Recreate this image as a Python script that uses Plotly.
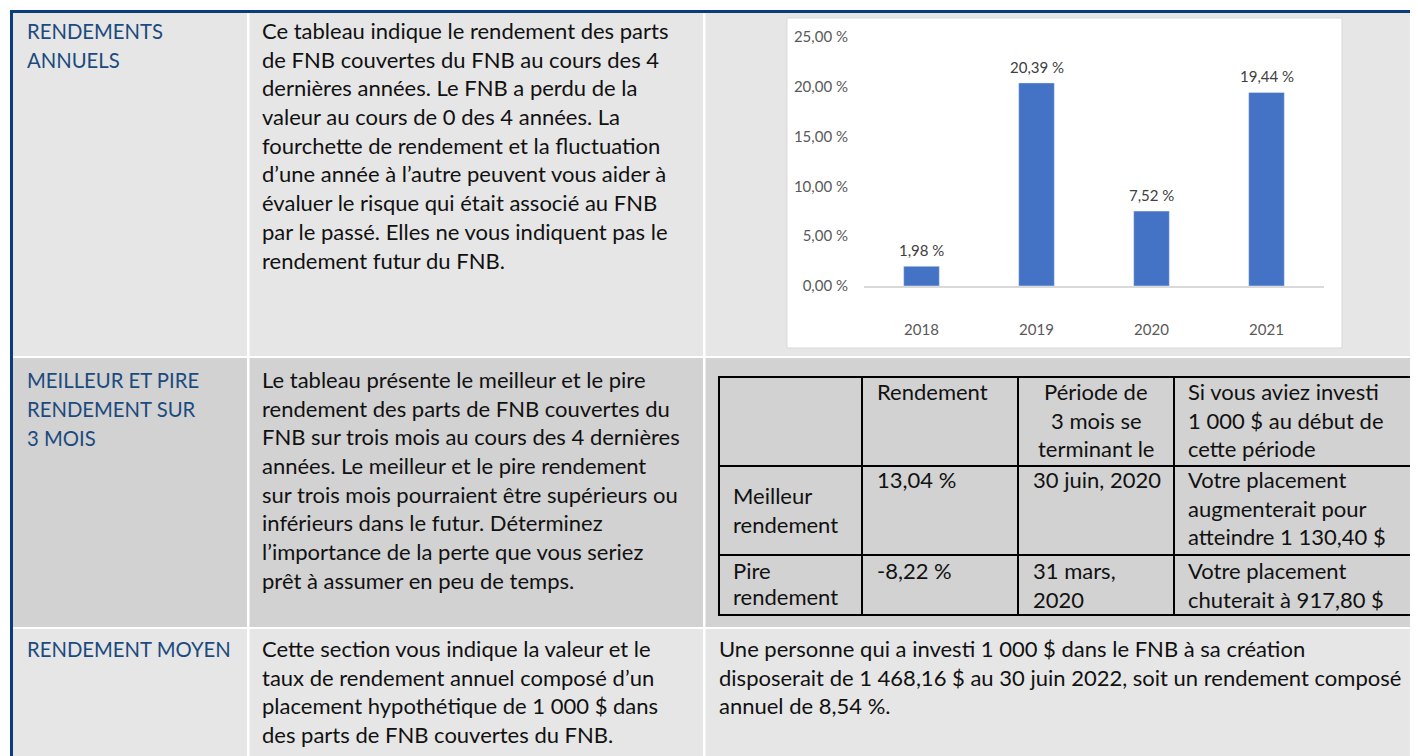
import plotly.graph_objects as go

W, H = 1418, 756
OX, OY = 8, 8  # page body offset compensation

# ---------------- data ----------------
years = ["2018", "2019", "2020", "2021"]
returns = [1.98, 20.39, 7.52, 19.44]
y_tick_values = [0, 5, 10, 15, 20, 25]

row1_title = ["RENDEMENTS", "ANNUELS"]
row1_text = [
    "Ce tableau indique le rendement des parts",
    "de FNB couvertes du FNB au cours des 4",
    "dernières années. Le FNB a perdu de la",
    "valeur au cours de 0 des 4 années. La",
    "fourchette de rendement et la fluctuation",
    "d’une année à l’autre peuvent vous aider à",
    "évaluer le risque qui était associé au FNB",
    "par le passé. Elles ne vous indiquent pas le",
    "rendement futur du FNB.",
]
row2_title = ["MEILLEUR ET PIRE", "RENDEMENT SUR", "3 MOIS"]
row2_text = [
    "Le tableau présente le meilleur et le pire",
    "rendement des parts de FNB couvertes du",
    "FNB sur trois mois au cours des 4 dernières",
    "années. Le meilleur et le pire rendement",
    "sur trois mois pourraient être supérieurs ou",
    "inférieurs dans le futur. Déterminez",
    "l’importance de la perte que vous seriez",
    "prêt à assumer en peu de temps.",
]
row3_title = ["RENDEMENT MOYEN"]
row3_text = [
    "Cette section vous indique la valeur et le",
    "taux de rendement annuel composé d’un",
    "placement hypothétique de 1 000 $ dans",
    "des parts de FNB couvertes du FNB.",
]
row3_result = [
    "Une personne qui a investi 1 000 $ dans le FNB à sa création",
    "disposerait de 1 468,16 $ au 30 juin 2022, soit un rendement composé",
    "annuel de 8,54 %.",
]

tbl_head_return = ["Rendement"]
tbl_head_period = ["Période de", "3 mois se", "terminant le"]
tbl_head_invest = ["Si vous aviez investi", "1 000 $ au début de", "cette période"]
best_label = ["Meilleur", "rendement"]
best_return = ["13,04 %"]
best_period = ["30 juin, 2020"]
best_invest = ["Votre placement", "augmenterait pour", "atteindre 1 130,40 $"]
worst_label = ["Pire", "rendement"]
worst_return = ["-8,22 %"]
worst_period = ["31 mars,", "2020"]
worst_invest = ["Votre placement", "chuterait à 917,80 $"]


def fmt_pct(v):
    return f"{v:.2f}".replace(".", ",") + " %"


# ---------------- helpers ----------------
FONT = "Lato"
FS = 22
HS = 20.3
ASC = 0.387
NAVY = "#1c4a7e"
BORDER = "#0b3d7a"
LIGHT = "#e6e6e6"
DARK = "#d2d2d2"
TXT = "#111111"

shapes = []
annotations = []


def px(x):
    return (x - OX) / W


def py(y):
    return 1 - (y - OY) / H


def rect(x0, y0, x1, y1, fill, line_color=None, lw=0, layer="below"):
    shapes.append(dict(type="rect", xref="paper", yref="paper",
                       x0=px(x0), x1=px(x1), y0=py(y1), y1=py(y0),
                       fillcolor=fill, layer=layer,
                       line=dict(width=lw, color=line_color or fill)))


def seg(x0, y0, x1, y1, color="#000000", w=2):
    shapes.append(dict(type="line", xref="paper", yref="paper",
                       x0=px(x0), y0=py(y0), x1=px(x1), y1=py(y1),
                       line=dict(color=color, width=w), layer="above"))


def text_lines(lines, x, baseline0, color=TXT, anchor="left", step=28.7, size=FS):
    for i, t in enumerate(lines):
        b = baseline0 + i * step
        annotations.append(dict(xref="paper", yref="paper", x=px(x), y=py(b - ASC * size),
                                xanchor=anchor, yanchor="middle", text=t, showarrow=False,
                                borderpad=0, borderwidth=0,
                                font=dict(family=FONT, size=size, color=color)))


# ---------------- page layout ----------------
R = W + OX
B = H + OY
rect(13, 13, R, 356, LIGHT)
rect(13, 358, R, 627, DARK)
rect(13, 629, R, B, LIGHT)
rect(247, 13, 249.5, B, "#ffffff")
rect(703, 13, 705.5, B, "#ffffff")
rect(10, 10, R, 13, BORDER)
rect(10, 10, 13, B, BORDER)
rect(787, 18, 1342, 348, "#ffffff", "#d9d9d9", 1)

# row texts
text_lines(row1_title, 27, 39, NAVY, size=HS)
text_lines(row1_text, 262, 39)
text_lines(row2_title, 27, 388, NAVY, size=HS)
text_lines(row2_text, 262, 388)
text_lines(row3_title, 27, 657, NAVY, size=HS)
text_lines(row3_text, 262, 657)
text_lines(row3_result, 719, 657)

# inner table grid
for xv in [719, 862, 1018, 1174, 1413]:
    seg(xv, 376, xv, 616)
for yv in [377, 466, 555, 615]:
    seg(718, yv, 1414, yv)

text_lines(tbl_head_return, 877, 400)
text_lines(tbl_head_period, 1096, 400, anchor="center")
text_lines(tbl_head_invest, 1188, 400)
text_lines(best_label, 733, 504)
text_lines(best_return, 877, 488)
text_lines(best_period, 1033, 488)
text_lines(best_invest, 1188, 488)
text_lines(worst_label, 733, 579, step=26.5)
text_lines(worst_return, 877, 579)
text_lines(worst_period, 1033, 579)
text_lines(worst_invest, 1188, 579)

# ---------------- bar chart ----------------
fig = go.Figure()
fig.add_trace(go.Bar(x=years, y=returns, marker_color="#4472c4", width=0.31,
                     hoverinfo="skip", showlegend=False))

for i, v in enumerate(returns):
    annotations.append(dict(xref="x", yref="y", x=i, y=v, text=fmt_pct(v), showarrow=False,
                            yanchor="bottom", yshift=7, borderpad=0, borderwidth=0,
                            font=dict(family=FONT, size=15, color="#404040")))

fig.update_layout(
    width=W, height=H,
    margin=dict(l=0, r=0, t=0, b=0, pad=0, autoexpand=False),
    paper_bgcolor="#ffffff",
    plot_bgcolor="rgba(0,0,0,0)",
    showlegend=False,
    shapes=shapes,
    annotations=annotations,
    xaxis=dict(domain=[px(864), px(1324)], type="category", automargin=False,
               range=[-0.5, len(years) - 0.5],
               showline=True, linecolor="#d9d9d9", linewidth=1.5,
               ticks="outside", ticklen=29, tickcolor="rgba(0,0,0,0)",
               showgrid=False, zeroline=False, fixedrange=True,
               tickfont=dict(family=FONT, size=15, color="#595959")),
    yaxis=dict(domain=[py(286), py(37)], range=[0, 25], automargin=False,
               tickvals=y_tick_values, ticktext=[fmt_pct(v) for v in y_tick_values],
               ticks="outside", ticklen=12, tickcolor="rgba(0,0,0,0)",
               showgrid=False, zeroline=False, showline=False, fixedrange=True,
               tickfont=dict(family=FONT, size=15, color="#595959")),
)

fig.write_html("out.html")
